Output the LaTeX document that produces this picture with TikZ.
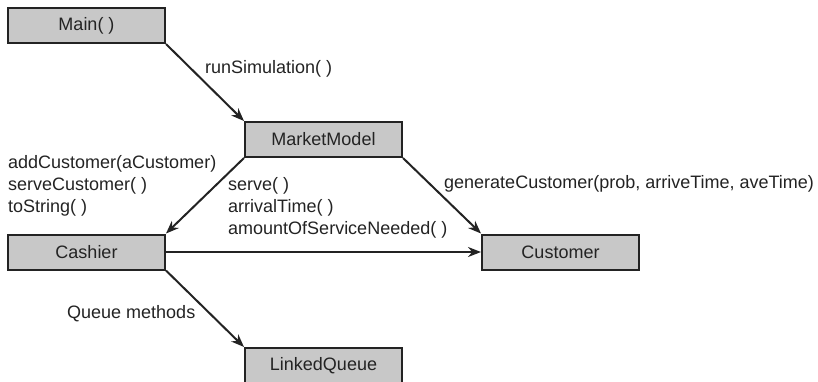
\documentclass[tikz,border=0pt]{standalone}
\usepackage{fontspec}
\setmainfont{Liberation Sans}
\usetikzlibrary{arrows.meta}
\definecolor{boxgray}{RGB}{200,200,200}
\definecolor{ink}{RGB}{35,35,35}

\tikzset{
  classbox/.style={draw=ink, fill=boxgray, line width=2pt, minimum width=157pt, minimum height=35pt,
    inner sep=0pt, font=\fontsize{18}{20}\selectfont, text=ink,
    append after command={[line width=3.5pt, draw=ink, line cap=rect]
      (\tikzlastnode.south west) -- (\tikzlastnode.south east) -- (\tikzlastnode.north east)}},
  msg/.style={anchor=west, align=left, inner sep=0pt, text=ink, font=\fontsize{18}{22}\selectfont},
  call/.style={-{Stealth[length=13pt, width=10pt]}, line width=2pt, draw=ink}
}

\begin{document}
\begin{tikzpicture}[x=1pt, y=-1pt]
\useasboundingbox (0,0) rectangle (818,381);
%classes
\node[classbox] (main) at (86.5,25.5) {Main( )};
\node[classbox] (model) at (323.5,139.5) {MarketModel};
\node[classbox] (cashier) at (86.5,252) {Cashier};
\node[classbox] (customer) at (560.5,252) {Customer};
\node[classbox] (queue) at (323.5,365.5) {LinkedQueue};

%calls
\draw[call] (main.south east) -- (model.north west);
\draw[call] (model.south west) -- (cashier.north east);
\draw[call] (model.south east) -- (customer.north west);
\draw[call] (cashier.east) -- (customer.west);
\draw[call] (cashier.south east) -- (queue.north west);

%method labels
\node[msg] (runlbl) at (205,69) {runSimulation( )};
\node[msg] (cashlbl) at (8,186) {addCustomer(aCustomer)\\serveCustomer( )\\toString( )};
\node[msg] (custlbl) at (228,208) {serve( )\\arrivalTime( )\\amountOfServiceNeeded( )};
\node[msg] (genlbl) at (444,184) {generateCustomer(prob, arriveTime, aveTime)};
\node[msg] (queuelbl) at (67,314) {Queue methods};
\end{tikzpicture}
\end{document}
